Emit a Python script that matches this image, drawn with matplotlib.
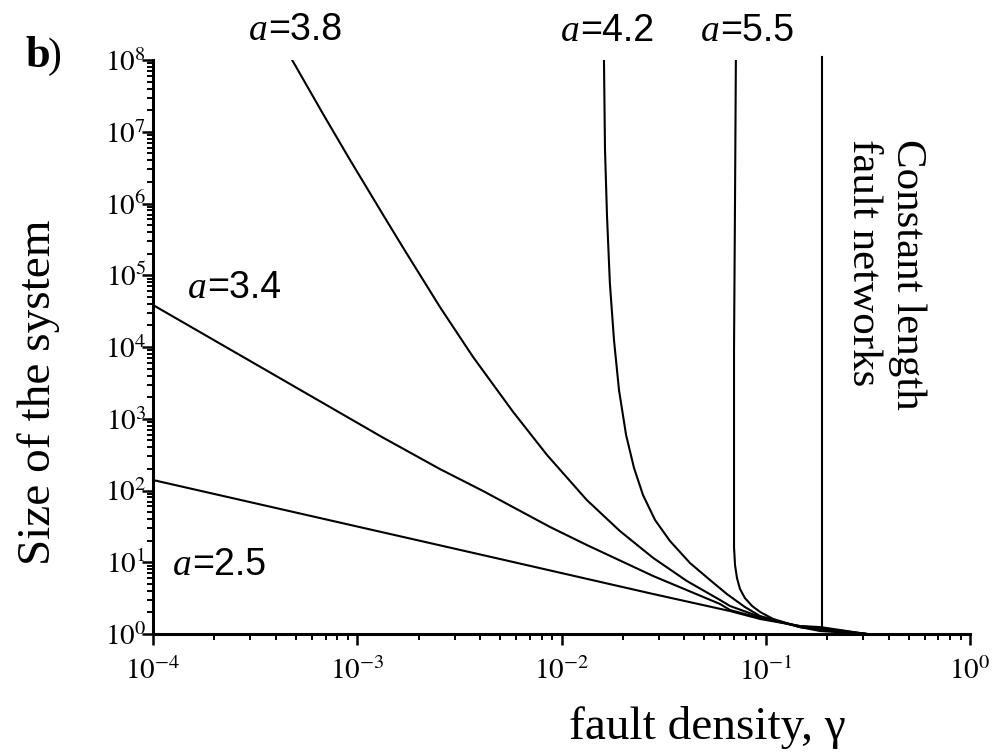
import math
import matplotlib
matplotlib.use('Agg')
import matplotlib.pyplot as plt
from matplotlib.ticker import LogLocator, FuncFormatter, NullFormatter

plt.rcParams['font.family'] = ['Liberation Serif', 'DejaVu Serif']
plt.rcParams['mathtext.fontset'] = 'stix'

# ---- data (fault density gamma, size of the system) ----
gamma_a25 = [1.0e-4, 7.6e-4, 5.0e-3, 0.0281, 0.0668, 0.0938, 0.147, 0.1845, 0.313]
size_a25 = [140, 37.6, 11.1, 3.61, 2.09, 1.62, 1.29, 1.25, 1.0]

gamma_a34 = [1.0e-4, 2.99e-4, 1.32e-3, 2.54e-3, 4.13e-3, 8.79e-3, 0.0133, 0.0281,
             0.0597, 0.0668, 0.0938, 0.147, 0.1845, 0.313]
size_a34 = [3.85e4, 6380, 557, 199, 98.4, 31.0, 17.4, 6.43, 2.62, 2.16, 1.67, 1.29, 1.21, 1.0]

gamma_a38 = [4.80e-4, 6.80e-4, 9.22e-4, 1.34e-3, 1.68e-3, 2.54e-3, 3.69e-3, 5.80e-3, 8.49e-3,
             0.0133, 0.0193, 0.0281, 0.0411, 0.0597, 0.0668, 0.0938, 0.147, 0.1845, 0.313]
size_a38 = [1e8, 1.77e7, 4.04e6, 6.91e5, 2.40e5, 3.61e4, 7260, 1242, 313, 73.7, 27.3, 11.5,
            5.48, 2.98, 2.46, 1.73, 1.25, 1.17, 1.0]

gamma_a42 = [0.01614, 0.01633, 0.01671, 0.01725, 0.01807, 0.01912, 0.02071, 0.02265, 0.02506,
             0.02871, 0.03396, 0.04256, 0.05333, 0.0645, 0.0790, 0.0938, 0.147, 0.1845, 0.313]
size_a42 = [1e8, 5.57e6, 6.48e5, 7.80e4, 1.25e4, 2515, 594, 206, 86.5, 38.8, 19.8, 9.76,
            5.66, 3.61, 2.38, 1.78, 1.25, 1.14, 1.0]

gamma_a55 = [0.0714, 0.07072, 0.06993, 0.06993, 0.07072, 0.0723, 0.0748, 0.0790, 0.0857,
             0.0938, 0.1086, 0.147, 0.1845, 0.313]
size_a55 = [1e8, 1.12e6, 9080, 16.3, 9.16, 6.03, 4.24, 3.18, 2.46, 2.03, 1.62, 1.25, 1.10, 1.0]

gamma_const = [0.1875, 0.1875]
size_const = [1.18, 1.1e8]

curve_labels = ['2.5', '3.4', '3.8', '4.2', '5.5']
const_label = 'Constant length\nfault networks'
xlabel = 'fault density, γ'
ylabel = 'Size of the system'
panel = 'b'

W, H = 995, 753
fig = plt.figure(figsize=(W / 100, H / 100), dpi=100)
ax = fig.add_axes([153 / W, 1 - 634 / H, (970 - 153) / W, (634 - 60) / H])

lw = 1.5
for g, s in [(gamma_a25, size_a25), (gamma_a34, size_a34), (gamma_a38, size_a38),
             (gamma_a42, size_a42), (gamma_a55, size_a55)]:
    ax.plot(g, s, color='black', lw=lw, solid_joinstyle='round')
ax.plot(gamma_const, size_const, color='black', lw=lw, clip_on=False)

ax.set_xscale('log')
ax.set_yscale('log')
ax.set_xlim(1e-4, 1e0)
ax.set_ylim(1e0, 1e8)

for sp in ['top', 'right']:
    ax.spines[sp].set_visible(False)
for sp in ['left', 'bottom']:
    ax.spines[sp].set_linewidth(2.2)

fmt = FuncFormatter(lambda v, p: r'$10^{%d}$' % round(math.log10(v)))
ax.xaxis.set_major_locator(LogLocator(base=10, numticks=10))
ax.yaxis.set_major_locator(LogLocator(base=10, numticks=12))
ax.xaxis.set_minor_locator(LogLocator(base=10, subs=range(2, 10), numticks=20))
ax.yaxis.set_minor_locator(LogLocator(base=10, subs=range(2, 10), numticks=20))
ax.xaxis.set_major_formatter(fmt)
ax.yaxis.set_major_formatter(fmt)
ax.xaxis.set_minor_formatter(NullFormatter())
ax.yaxis.set_minor_formatter(NullFormatter())

ax.tick_params(which='major', direction='out', length=8, width=1.8, labelsize=21)
ax.tick_params(which='minor', direction='out', length=4.5, width=1.4)
ax.tick_params(axis='x', which='major', pad=9)
ax.tick_params(axis='y', which='major', pad=-3)

ax.set_xlabel(xlabel, fontsize=34)
ax.xaxis.set_label_coords((707 - 153) / 817, -0.125)
ax.set_ylabel(ylabel, fontsize=34)
ax.yaxis.set_label_coords((60 - 153) / 817, (634 - 392) / 574)


def px(x, y):
    return x / W, 1 - y / H


# curve labels: italic "a" and "=value"
label_pos = {'3.8': (268, 40), '4.2': (580, 41), '5.5': (720, 41), '3.4': (207, 298),
             '2.5': (192, 575)}
for lab in curve_labels:
    x, y = label_pos[lab]
    fig.text(*px(x, y), 'a', fontsize=27, style='italic', ha='right', va='baseline',
             family='Liberation Serif')
    fig.text(*px(x, y), '=' + lab, fontsize=27, ha='left', va='baseline',
             family='Liberation Sans')

fig.text(*px(885, 274), const_label, fontsize=31, rotation=-90, ha='center', va='center',
         multialignment='left')

fig.text(*px(25, 67), panel, fontsize=32, weight='bold', ha='left', va='baseline')
fig.text(*px(48, 67), ')', fontsize=30, ha='left', va='baseline')

fig.savefig('out.png', dpi=100)
